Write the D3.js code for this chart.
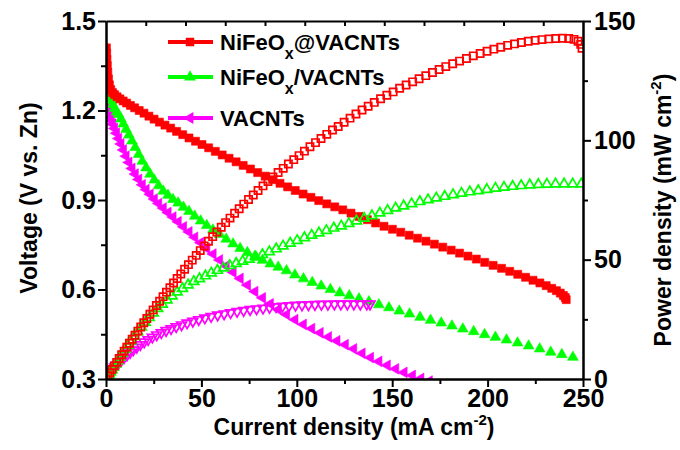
<!DOCTYPE html>
<html>
<head>
<meta charset="utf-8">
<script src="https://cdn.jsdelivr.net/npm/d3@7"></script>
<style>
  html, body { margin: 0; padding: 0; background: #fff; }
  svg { display: block; }
  text { font-family: "Liberation Sans", Arial, sans-serif; font-weight: bold; fill: #000; }
</style>
</head>
<body>
<svg id="chart" width="680" height="450"></svg>
<script>
// ---- Data: polarization (V) and power density (P) vs current density (mA cm^-2) ----
const seriesNames = ["NiFeOx@VACNTs", "NiFeOx/VACNTs", "VACNTs"];
const seriesColors = ["#ff0000", "#00ff00", "#ff00ff"];

const currentTicks = [0, 50, 100, 150, 200, 250];
const voltageTicks = [0.3, 0.6, 0.9, 1.2, 1.5];
const powerTicks = [0, 50, 100, 150];

// NiFeOx@VACNTs voltage
const niAtI = [0.2, 0.35, 0.5, 0.7, 0.95, 1.3, 1.8, 2.5, 3.4, 4.5, 5.8, 7.3, 9.0, 10.8, 12.8, 15.0, 17.4, 19.9, 22.5, 25.2, 28.0, 30.9, 33.9, 37.0, 40.2, 43.5, 46.9, 50.3, 53.8, 57.3, 60.9, 64.5, 68.2, 71.9, 75.7, 79.5, 83.4, 87.3, 91.2, 95.2, 99.2, 103.3, 107.4, 111.5, 115.7, 119.9, 124.1, 128.4, 132.7, 137.0, 141.3, 145.7, 150.1, 154.5, 158.9, 163.3, 167.7, 172.1, 176.5, 180.9, 185.3, 189.7, 194.1, 198.5, 202.9, 207.3, 211.6, 215.8, 219.9, 223.8, 227.4, 230.7, 233.6, 236.1, 238.1, 239.7, 240.7, 241.2];
const niAtV = [1.410, 1.392, 1.372, 1.350, 1.328, 1.306, 1.286, 1.270, 1.260, 1.253, 1.246, 1.239, 1.232, 1.225, 1.217, 1.209, 1.200, 1.191, 1.181, 1.171, 1.161, 1.151, 1.141, 1.130, 1.119, 1.108, 1.097, 1.086, 1.075, 1.063, 1.051, 1.040, 1.028, 1.016, 1.004, 0.992, 0.980, 0.968, 0.956, 0.944, 0.932, 0.920, 0.909, 0.898, 0.887, 0.877, 0.867, 0.856, 0.845, 0.834, 0.823, 0.812, 0.802, 0.792, 0.782, 0.772, 0.762, 0.752, 0.742, 0.732, 0.722, 0.712, 0.702, 0.691, 0.681, 0.671, 0.661, 0.651, 0.641, 0.631, 0.622, 0.613, 0.604, 0.596, 0.588, 0.580, 0.573, 0.566];

// NiFeOx@VACNTs power density
const niAtPI = [0, 1, 2, 3.2, 4.4, 5.6, 6.9, 8.2, 9.5, 10.9, 12.3, 13.7, 15.2, 16.7, 18.2, 19.8, 21.4, 23.0, 24.7, 26.4, 28.1, 29.9, 31.7, 33.5, 35.4, 37.3, 39.2, 41.2, 43.2, 45.2, 47.3, 49.4, 51.5, 53.7, 55.9, 58.1, 60.4, 62.7, 65.0, 67.4, 69.8, 72.2, 74.7, 77.2, 79.7, 82.3, 84.9, 87.5, 90.2, 92.9, 95.6, 98.4, 101.2, 104.0, 106.9, 109.8, 112.7, 115.7, 118.7, 121.7, 124.8, 127.9, 131.0, 134.2, 137.4, 140.6, 143.9, 147.2, 150.5, 153.9, 157.3, 160.7, 164.1, 167.6, 171.1, 174.6, 178.1, 181.7, 185.3, 188.9, 192.5, 196.1, 199.7, 203.3, 206.9, 210.5, 214.1, 217.7, 221.3, 224.9, 228.5, 232.1, 235.7, 239.2, 242.5, 245.3, 247.4, 248.8, 249.5];
const niAtP = [0, 1.33, 2.55, 4.03, 5.51, 6.98, 8.56, 10.13, 11.69, 13.35, 14.99, 16.63, 18.36, 20.07, 21.79, 23.58, 25.36, 27.12, 28.95, 30.78, 32.60, 34.50, 36.39, 38.26, 40.21, 42.11, 44.02, 45.98, 47.91, 49.81, 51.79, 53.80, 55.72, 57.73, 59.65, 61.59, 63.60, 65.52, 67.41, 69.42, 71.34, 73.28, 75.22, 77.12, 78.98, 80.90, 82.78, 84.61, 86.50, 88.26, 90.06, 91.91, 93.61, 95.47, 97.28, 99.04, 100.75, 102.51, 104.34, 105.8, 107.6, 109.3, 111.0, 112.7, 114.3, 115.9, 117.4, 118.9, 120.3, 121.8, 123.2, 124.5, 125.8, 127.1, 128.4, 129.7, 130.9, 132.1, 133.2, 134.3, 135.4, 136.4, 137.3, 138.2, 139.0, 139.8, 140.4, 141.0, 141.5, 141.9, 142.2, 142.5, 142.7, 142.8, 142.7, 142.3, 141.5, 140.2, 138.6];

// NiFeOx/VACNTs voltage
const niSlI = [0, 0.3, 0.6, 1.0, 1.5, 2.1, 2.8, 3.6, 4.5, 5.5, 6.6, 7.8, 9.1, 10.5, 12.0, 13.6, 15.3, 17.1, 19.0, 21.0, 23.1, 25.3, 27.6, 30.0, 32.5, 35.1, 37.8, 40.6, 43.5, 46.5, 49.6, 52.8, 56.1, 59.5, 63.0, 66.6, 70.3, 74.1, 78.0, 82.0, 86.1, 90.3, 94.6, 99.0, 103.5, 108.1, 112.8, 117.6, 122.5, 127.5, 132.6, 137.8, 143.0, 148.3, 153.7, 159.1, 164.6, 170.1, 175.7, 181.3, 187.0, 192.7, 198.4, 204.1, 209.9, 215.7, 221.5, 227.3, 233.1, 238.9, 244.7];
const niSlV = [1.300, 1.292, 1.284, 1.273, 1.260, 1.246, 1.233, 1.220, 1.207, 1.195, 1.187, 1.172, 1.155, 1.137, 1.118, 1.098, 1.076, 1.053, 1.030, 1.008, 0.987, 0.967, 0.948, 0.930, 0.916, 0.902, 0.890, 0.876, 0.862, 0.846, 0.830, 0.815, 0.800, 0.785, 0.769, 0.753, 0.738, 0.724, 0.711, 0.698, 0.686, 0.675, 0.663, 0.649, 0.636, 0.624, 0.612, 0.600, 0.589, 0.579, 0.569, 0.559, 0.549, 0.539, 0.528, 0.518, 0.507, 0.497, 0.488, 0.478, 0.468, 0.459, 0.449, 0.440, 0.431, 0.421, 0.411, 0.401, 0.390, 0.382, 0.373];

// NiFeOx/VACNTs power density
const niSlPI = [0, 0.5, 1.0, 1.6, 2.3, 3.1, 4.0, 5.0, 6.1, 7.3, 8.6, 10.0, 11.5, 13.1, 14.8, 16.6, 18.5, 20.5, 22.6, 24.8, 27.1, 29.5, 32.0, 34.6, 37.3, 40.1, 43.0, 46.0, 49.0, 52.1, 55.2, 58.4, 61.6, 64.9, 68.2, 71.6, 75.0, 78.5, 82.0, 85.6, 89.2, 92.8, 96.5, 100.2, 104.0, 107.8, 111.6, 115.5, 119.4, 123.3, 127.3, 131.3, 135.3, 139.4, 143.5, 147.6, 151.8, 156.0, 160.2, 164.5, 168.8, 173.1, 177.5, 181.9, 186.3, 190.7, 195.1, 199.6, 204.1, 208.6, 213.1, 217.6, 222.1, 226.6, 231.1, 235.6, 240.1, 244.6, 249.1];
const niSlP = [0, 0.6, 1.3, 2.0, 2.9, 3.9, 5.0, 6.3, 7.6, 9.1, 10.7, 12.4, 14.1, 15.9, 17.8, 19.8, 21.8, 23.8, 25.7, 27.6, 29.5, 31.3, 33.1, 34.8, 36.4, 37.9, 39.4, 40.8, 42.0, 43.2, 44.4, 45.5, 46.5, 47.5, 48.4, 49.3, 50.2, 51.1, 52.1, 53.3, 54.5, 55.7, 56.9, 58.0, 59.2, 60.2, 61.2, 62.2, 63.2, 64.1, 65.1, 66.2, 67.3, 68.4, 69.5, 70.6, 71.6, 72.5, 73.4, 74.3, 75.1, 75.8, 76.5, 77.2, 77.8, 78.4, 78.9, 79.4, 79.9, 80.3, 80.7, 81.0, 81.3, 81.5, 81.6, 81.7, 81.7, 81.7, 81.7];

// VACNTs voltage
const vaI = [0, 0.3, 0.6, 1.0, 1.5, 2.1, 2.8, 3.6, 4.5, 5.5, 6.6, 7.8, 9.1, 10.5, 12.0, 13.6, 15.3, 17.1, 19.0, 21.0, 23.1, 25.3, 27.6, 30.0, 32.5, 35.1, 37.8, 40.6, 43.5, 46.5, 49.6, 52.8, 56.1, 59.5, 63.0, 66.6, 70.3, 74.1, 78.0, 82.0, 86.1, 90.3, 94.6, 99.0, 103.4, 107.8, 112.2, 116.6, 121.0, 125.4, 129.8, 134.2, 138.6, 143.0, 147.4, 151.8, 156.2, 160.6, 165.0, 169.4];
const vaV = [1.245, 1.232, 1.220, 1.206, 1.193, 1.180, 1.167, 1.154, 1.140, 1.124, 1.106, 1.088, 1.068, 1.047, 1.026, 1.006, 0.987, 0.969, 0.951, 0.935, 0.919, 0.903, 0.888, 0.873, 0.858, 0.843, 0.827, 0.810, 0.793, 0.775, 0.757, 0.738, 0.719, 0.699, 0.679, 0.658, 0.637, 0.615, 0.593, 0.572, 0.552, 0.533, 0.516, 0.499, 0.483, 0.469, 0.455, 0.441, 0.428, 0.415, 0.401, 0.386, 0.372, 0.359, 0.346, 0.334, 0.322, 0.312, 0.302, 0.293];

// VACNTs power density
const vaPI = [0, 0.5, 1.1, 1.8, 2.6, 3.5, 4.5, 5.6, 6.8, 8.1, 9.5, 11.0, 12.6, 14.3, 16.1, 18.0, 20.0, 22.1, 24.3, 26.6, 29.0, 31.5, 34.1, 36.8, 39.6, 42.5, 45.5, 48.6, 51.8, 55.1, 58.5, 61.9, 65.3, 68.7, 72.1, 75.5, 78.9, 82.3, 85.7, 89.1, 92.5, 95.9, 99.3, 102.7, 106.1, 109.5, 112.9, 116.3, 119.7, 123.1, 126.5, 129.9, 133.3, 136.7, 138.4];
const vaP = [0, 0.6, 1.4, 2.3, 3.2, 4.1, 5.0, 5.9, 6.9, 7.9, 9.0, 10.0, 11.1, 12.2, 13.3, 14.4, 15.5, 16.5, 17.5, 18.5, 19.4, 20.3, 21.1, 21.9, 22.7, 23.5, 24.2, 24.9, 25.6, 26.2, 26.8, 27.3, 27.8, 28.3, 28.7, 29.1, 29.4, 29.7, 30.0, 30.3, 30.5, 30.7, 30.9, 31.0, 31.1, 31.2, 31.3, 31.3, 31.4, 31.4, 31.4, 31.4, 31.4, 31.4, 31.4];

// ---- Layout ----
const svg = d3.select("#chart");
const plot = { left: 106, right: 583, top: 21, bottom: 379 };
const tickFont = "25px";

const x = d3.scaleLinear().domain([0, 250]).range([plot.left, plot.right]);
const xTop = d3.scaleLinear().domain([0, 300]).range([plot.left, plot.right]);
const yV = d3.scaleLinear().domain([0.3, 1.5]).range([plot.bottom, plot.top]);
const yP = d3.scaleLinear().domain([0, 150]).range([plot.bottom, plot.top]);

svg.append("defs").append("clipPath").attr("id", "plotClip")
  .append("rect")
  .attr("x", plot.left).attr("y", plot.top)
  .attr("width", plot.right - plot.left).attr("height", plot.bottom - plot.top);

// Marker shapes
const sym = {
  square: d3.symbol().type(d3.symbolSquare).size(64)(),
  hollowSquare: d3.symbol().type(d3.symbolSquare).size(52)(),
  tri: d3.symbol().type(d3.symbolTriangle).size(50)(),
  hollowTri: d3.symbol().type(d3.symbolTriangle).size(42)(),
  legendSquare: d3.symbol().type(d3.symbolSquare).size(72)(),
  legendTri: d3.symbol().type(d3.symbolTriangle).size(60)()
};

function drawSeries(xs, ys, yScale, shape, rotate, color, filled) {
  const g = svg.append("g").attr("clip-path", "url(#plotClip)");
  g.selectAll("path")
    .data(xs.map((v, i) => [v, ys[i]]))
    .join("path")
    .attr("d", shape)
    .attr("transform", d => `translate(${x(d[0])},${yScale(d[1])}) rotate(${rotate})`)
    .attr("fill", filled ? color : "none")
    .attr("stroke", color)
    .attr("stroke-width", filled ? 0.6 : 1.7);
}

// Voltage curves (filled markers)
drawSeries(vaI, vaV, yV, sym.tri, -90, seriesColors[2], true);
drawSeries(niSlI, niSlV, yV, sym.tri, 0, seriesColors[1], true);
drawSeries(niAtI, niAtV, yV, sym.square, 0, seriesColors[0], true);
// Power density curves (hollow markers)
drawSeries(vaPI, vaP, yP, sym.hollowTri, 180, seriesColors[2], false);
drawSeries(niSlPI, niSlP, yP, sym.hollowTri, 0, seriesColors[1], false);
drawSeries(niAtPI, niAtP, yP, sym.hollowSquare, 0, seriesColors[0], false);

// ---- Axes ----
function styleAxis(g) {
  g.selectAll(".domain").attr("stroke", "#000").attr("stroke-width", 2);
  g.selectAll(".tick line").attr("stroke", "#000").attr("stroke-width", 2);
  g.selectAll(".tick text").style("font-size", tickFont).style("font-weight", "bold")
    .style("font-family", "'Liberation Sans', Arial, sans-serif");
}

// bottom
const minorX = d3.range(25, 250, 50);
svg.append("g").attr("transform", `translate(0,${plot.bottom})`)
  .call(d3.axisBottom(x).tickValues(minorX).tickSize(5).tickFormat("").tickSizeOuter(0))
  .call(styleAxis);
svg.append("g").attr("transform", `translate(0,${plot.bottom})`)
  .call(d3.axisBottom(x).tickValues(currentTicks).tickSize(8).tickPadding(2).tickFormat(d3.format("d")).tickSizeOuter(0))
  .call(styleAxis);

// top (inward ticks)
svg.append("g").attr("transform", `translate(0,${plot.top})`)
  .call(d3.axisBottom(xTop).tickValues(d3.range(25, 300, 25)).tickSize(5).tickFormat("").tickSizeOuter(0))
  .call(styleAxis);

// left
const minorV = [0.45, 0.75, 1.05, 1.35];
svg.append("g").attr("transform", `translate(${plot.left},0)`)
  .call(d3.axisLeft(yV).tickValues(minorV).tickSize(5).tickFormat("").tickSizeOuter(0))
  .call(styleAxis);
svg.append("g").attr("transform", `translate(${plot.left},0)`)
  .call(d3.axisLeft(yV).tickValues(voltageTicks).tickSize(8).tickPadding(2).tickFormat(d3.format(".1f")).tickSizeOuter(0))
  .call(styleAxis);

// right
const minorP = [25, 75, 125];
svg.append("g").attr("transform", `translate(${plot.right},0)`)
  .call(d3.axisRight(yP).tickValues(minorP).tickSize(5).tickFormat("").tickSizeOuter(0))
  .call(styleAxis);
svg.append("g").attr("transform", `translate(${plot.right},0)`)
  .call(d3.axisRight(yP).tickValues(powerTicks).tickSize(8).tickPadding(3).tickFormat(d3.format("d")).tickSizeOuter(0))
  .call(styleAxis);

// ---- Axis titles ----
const xTitle = svg.append("text")
  .attr("x", 354).attr("y", 435)
  .attr("text-anchor", "middle")
  .style("font-size", "23px");
xTitle.append("tspan").text("Current density (mA cm");
xTitle.append("tspan").attr("dy", -10).style("font-size", "15px").text("-2");
xTitle.append("tspan").attr("dy", 10).text(")");

svg.append("text")
  .attr("transform", "translate(37,198) rotate(-90)")
  .attr("text-anchor", "middle")
  .style("font-size", "23px")
  .text("Voltage (V vs. Zn)");

const pTitle = svg.append("text")
  .attr("transform", "translate(671,210) rotate(-90)")
  .attr("text-anchor", "middle")
  .style("font-size", "23px");
pTitle.append("tspan").text("Power density (mW cm");
pTitle.append("tspan").attr("dy", -10).style("font-size", "15px").text("-2");
pTitle.append("tspan").attr("dy", 10).text(")");

// ---- Legend ----
const legendRows = [
  { y: 42, color: seriesColors[0], shape: sym.legendSquare, rot: 0, pre: "NiFeO", sub: "x", post: "@VACNTs" },
  { y: 77, color: seriesColors[1], shape: sym.legendTri, rot: 0, pre: "NiFeO", sub: "x", post: "/VACNTs" },
  { y: 118, color: seriesColors[2], shape: sym.legendTri, rot: -90, pre: "VACNTs", sub: "", post: "" }
];
const legend = svg.append("g");
legendRows.forEach(r => {
  legend.append("line")
    .attr("x1", 168).attr("x2", 213).attr("y1", r.y).attr("y2", r.y)
    .attr("stroke", r.color).attr("stroke-width", 4);
  legend.append("path")
    .attr("d", r.shape)
    .attr("transform", `translate(190,${r.y}) rotate(${r.rot})`)
    .attr("fill", r.color);
  const t = legend.append("text").attr("x", 220).attr("y", r.y + 8).style("font-size", "22px");
  t.append("tspan").text(r.pre);
  if (r.sub) {
    t.append("tspan").attr("dy", 9).style("font-size", "16px").text(r.sub);
    t.append("tspan").attr("dy", -9).text(r.post);
  }
});
</script>
</body>
</html>
